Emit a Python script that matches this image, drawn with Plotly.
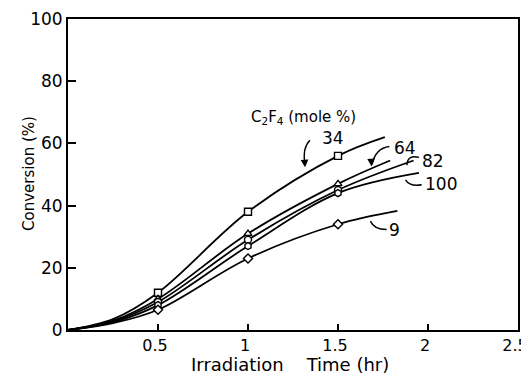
import plotly.graph_objects as go

# Irradiation time (hr) at which samples were measured
t_marks = [0.5, 1.0, 1.5]

# Curve points (time, conversion %) for each C2F4 mole %
series_names = ["34", "64", "82", "100", "9"]
curve_t = {
    "34":  [0, 0.25, 0.5, 1.0, 1.5, 1.76],
    "64":  [0, 0.25, 0.5, 1.0, 1.5, 1.79],
    "82":  [0, 0.25, 0.5, 1.0, 1.5, 1.92],
    "100": [0, 0.25, 0.5, 1.0, 1.5, 1.95],
    "9":   [0, 0.25, 0.5, 1.0, 1.5, 1.83],
}
curve_y = {
    "34":  [0, 3.5, 12.0, 38.0, 56.0, 62.0],
    "64":  [0, 3.0, 10.0, 31.0, 47.0, 54.5],
    "82":  [0, 2.8, 9.0, 29.0, 45.0, 54.5],
    "100": [0, 2.5, 8.0, 27.0, 44.0, 50.5],
    "9":   [0, 2.2, 6.5, 23.0, 34.0, 38.3],
}
mark_y = {
    "34":  [12.0, 38.0, 56.0],
    "64":  [10.0, 31.0, 47.0],
    "82":  [9.0, 29.0, 45.0],
    "100": [8.0, 27.0, 44.0],
    "9":   [6.5, 23.0, 34.0],
}
symbols = {"34": "square", "64": "triangle-up", "82": "circle",
           "100": "hexagon", "9": "diamond"}

x_ticks = [0.5, 1, 1.5, 2, 2.5]
x_tick_text = ["0.5", "1", "1.5", "2", "2.5"]
y_ticks = [0, 20, 40, 60, 80, 100]

FONT = "DejaVu Sans"

fig = go.Figure()
for n in series_names:
    fig.add_trace(go.Scatter(x=curve_t[n], y=curve_y[n], mode="lines",
                             line=dict(color="black", width=1.8, shape="spline", smoothing=1.0),
                             showlegend=False, hoverinfo="skip"))
for n in series_names:
    fig.add_trace(go.Scatter(x=t_marks, y=mark_y[n], mode="markers",
                             marker=dict(symbol=symbols[n], size=7, color="white",
                                         line=dict(color="black", width=1.4)),
                             showlegend=False))

# series labels: (text, left x, centre y)
labels = [
    ("34", 1.40, 61.7),
    ("64", 1.80, 58.4),
    ("82", 1.955, 54.5),
    ("100", 1.97, 46.9),
    ("9", 1.77, 32.0),
]
# leader curves: start, control, end (data coords)
leaders = [
    ((1.344, 61.0), (1.30, 58.5), (1.317, 53.0)),
    ((1.785, 59.0), (1.71, 58.5), (1.689, 53.3)),
    ((1.95, 55.5), (1.885, 56.5), (1.883, 53.0)),
    ((1.965, 46.7), (1.90, 46.0), (1.875, 48.3)),
    ((1.77, 32.3), (1.70, 32.3), (1.68, 35.0)),
]
arrow_ends = [(1.317, 52.3), (1.687, 52.6)]

fig.add_annotation(x=1.306, y=68.2, xref="x", yref="y",
                   text="C<sub>2</sub>F<sub>4</sub> (mole %)",
                   showarrow=False, font=dict(family=FONT, size=15, color="black"))
for txt, lx, ly in labels:
    fig.add_annotation(x=lx, y=ly, xref="x", yref="y", text=txt, showarrow=False,
                       xanchor="left", font=dict(family=FONT, size=17, color="black"))
for (s, c, e) in leaders:
    fig.add_shape(type="path", xref="x", yref="y",
                  path=f"M {s[0]},{s[1]} Q {c[0]},{c[1]} {e[0]},{e[1]}",
                  line=dict(color="black", width=1.4))
for ex, ey in arrow_ends:
    fig.add_annotation(x=ex, y=ey, xref="x", yref="y", ax=-0.5, ay=-7, text="",
                       showarrow=True, arrowhead=2, arrowsize=1.1, arrowwidth=1.4,
                       arrowcolor="black", standoff=0)

fig.add_annotation(x=0.493, y=-0.152, xref="paper", yref="paper",
                   text="Irradiation&nbsp;&nbsp;&nbsp; Time (hr)",
                   showarrow=False, font=dict(family=FONT, size=18, color="black"))
fig.add_annotation(x=-0.111, y=0.502, xref="paper", yref="paper", text="Conversion (%)",
                   textangle=-90, showarrow=False, font=dict(family=FONT, size=15, color="black"))

fig.update_xaxes(range=[0, 2.5], tickvals=x_ticks, ticktext=x_tick_text, ticks="inside",
                 ticklen=6, tickwidth=1.5, tickcolor="black", showline=True, linecolor="black",
                 linewidth=2, mirror=True, showgrid=False, zeroline=False, automargin=False,
                 ticklabeloverflow="allow", ticklabelshift=-3,
                 tickfont=dict(family=FONT, size=16, color="black"))
fig.update_yaxes(range=[0, 100], tickvals=y_ticks, ticks="inside", ticklen=8, tickwidth=1.5,
                 tickcolor="black", showline=True, linecolor="black", linewidth=2,
                 mirror=True, showgrid=False, zeroline=False, automargin=False,
                 tickfont=dict(family=FONT, size=17, color="black"))
# the page body has an 8px margin, so the figure is sized to fit the window
fig.update_layout(width=521, height=369, margin=dict(l=60, r=11, t=11, b=47),
                  plot_bgcolor="white", paper_bgcolor="white")
fig.write_html("out.html")
